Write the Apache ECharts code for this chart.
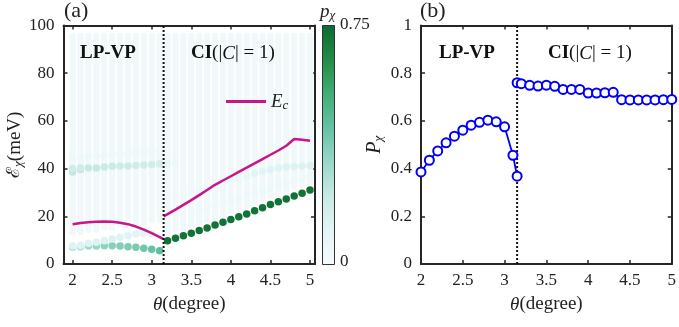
<!DOCTYPE html>
<html><head><meta charset="utf-8">
<script src="https://cdn.jsdelivr.net/npm/echarts@6/dist/echarts.min.js"></script>
<style>html,body{margin:0;padding:0;background:#fff}#c{width:679px;height:327px}</style>
</head><body><div id="c"></div>
<script>
// ---------- data ----------
const thetaTicks = [2, 2.5, 3, 3.5, 4, 4.5, 5];
const energyTicks = [0, 20, 40, 60, 80, 100];
const pxTicks = [0, 0.2, 0.4, 0.6, 0.8, 1];
const dividerTheta = 3.15;

// background faint columns: theta, lower edge, upper edge (meV)
const colTheta = [2,2.1,2.2,2.3,2.4,2.5,2.6,2.7,2.8,2.9,3,3.1,3.2,3.3,3.4,3.5,3.6,3.7,3.8,3.9,4,4.1,4.2,4.3,4.4,4.5,4.6,4.7,4.8,4.9,5];
const colLow  = [12,12,13,13,14,14,15,15,16,16,17,17,12,13,14,15,16,17,18,19,21,22,23,24,26,27,28,29,31,32,33];
const colHigh = [97,97,97,97,97,97,97,97,97,97,97,97,97,97,97,97,97,97,97,97,97,97,97,97,97,97,97,97,97,97,97];

// exciton branches (theta, energy meV, weight p)
const brLowTheta = [2,2.1,2.2,2.3,2.4,2.5,2.6,2.7,2.8,2.9,3,3.1];
const brLowE     = [7.0,7.2,7.5,7.5,7.7,7.7,7.5,7.2,7.0,6.6,6.2,5.6];
const brLowP     = [0.27,0.29,0.31,0.33,0.35,0.36,0.37,0.38,0.39,0.41,0.43,0.45];

const brLightTheta = [2,2.1,2.2,2.3,2.4,2.5,2.6,2.7,2.8,2.9,3];
const brLightE     = [7.6,7.9,8.7,9.1,9.8,10.5,11.2,11.8,12.6,12.8,12.6];
const brLightP     = [0.12,0.12,0.12,0.13,0.13,0.13,0.12,0.12,0.11,0.11,0.10];

const brUpTheta = [2,2,2.1,2.1,2.2,2.3,2.4,2.5,2.6,2.7,2.8,2.9,3,3.1,3.2,3.3];
const brUpE     = [38.6,40.0,39.6,40.4,40.2,40.3,40.7,41.0,41.1,41.1,41.3,41.5,41.7,42.0,42.0,42.2];
const brUpP     = [0.23,0.19,0.23,0.19,0.22,0.22,0.21,0.21,0.20,0.20,0.19,0.19,0.18,0.17,0.09,0.06];

const brFaintTheta = [2,2.1,2.2,2.3,2.4,2.5,2.6,2.7,2.8,2.9,3,3.1];
const brFaintE     = [44.5,44.8,45.0,45.3,45.6,45.9,46.2,46.5,46.8,47.1,47.4,47.7];
const brFaintP     = [0.04,0.04,0.04,0.04,0.04,0.04,0.04,0.04,0.04,0.04,0.04,0.04];

const brRightTheta = [3.3,3.4,3.5,3.6,3.7,3.8,3.9,4,4.1,4.2,4.3,4.4,4.5,4.6,4.7,4.8,4.9,5];
const brRightE     = [29.0,29.8,30.6,31.4,32.2,33.0,33.8,34.6,35.6,36.6,38.0,38.9,39.6,40.2,40.7,40.9,41.1,41.3];
const brRightP     = [0.03,0.03,0.03,0.04,0.04,0.04,0.05,0.05,0.06,0.07,0.10,0.11,0.12,0.12,0.13,0.13,0.13,0.14];

const brRight2Theta = [3.6,3.7,3.8,3.9,4,4.1,4.2,4.3,4.4,4.5,4.6,4.7,4.8,4.9,5];
const brRight2E     = [22.5,23.5,24.5,25.5,26.6,27.6,28.6,29.7,30.7,31.8,32.8,33.9,34.9,36.0,37.0];
const brRight2P     = [0.03,0.03,0.03,0.03,0.04,0.04,0.04,0.04,0.05,0.05,0.05,0.05,0.05,0.05,0.05];

const brDarkTheta = [3.2,3.3,3.4,3.5,3.6,3.7,3.8,3.9,4,4.1,4.2,4.3,4.4,4.5,4.6,4.7,4.8,4.9,5];
const brDarkE     = [9.8,10.8,11.8,12.9,14.0,15.1,16.3,17.5,18.7,19.8,21.0,22.3,23.6,24.9,26.1,27.3,28.5,29.7,31.0];
const brDarkP     = [0.72,0.72,0.72,0.72,0.72,0.72,0.72,0.72,0.72,0.72,0.72,0.72,0.72,0.72,0.72,0.72,0.72,0.72,0.72];

// Ec line
const ecLeftTheta  = [2,2.1,2.2,2.3,2.4,2.5,2.6,2.7,2.8,2.9,3,3.1,3.15];
const ecLeftE      = [16.7,17.2,17.5,17.7,17.8,17.7,17.3,16.7,15.7,14.4,12.9,11.3,10.4];
const ecRightTheta = [3.15,3.2,3.3,3.4,3.5,3.6,3.7,3.8,3.9,4,4.1,4.2,4.3,4.4,4.5,4.6,4.7,4.8,4.9,5];
const ecRightE     = [20.0,20.9,22.8,24.8,26.8,28.9,31.0,33.2,35.0,36.8,38.6,40.4,42.2,44.0,45.8,47.6,49.6,52.4,52.1,51.7];

// panel (b)
const pLeftTheta  = [2,2.1,2.2,2.3,2.4,2.5,2.6,2.7,2.8,2.9,3,3.1,3.15];
const pLeftVal    = [0.386,0.435,0.474,0.508,0.536,0.561,0.582,0.594,0.603,0.596,0.575,0.456,0.368];
const pRightTheta = [3.15,3.2,3.3,3.4,3.5,3.6,3.7,3.8,3.9,4,4.1,4.2,4.3,4.4,4.5,4.6,4.7,4.8,4.9,5];
const pRightVal   = [0.760,0.756,0.749,0.746,0.750,0.745,0.732,0.732,0.732,0.717,0.717,0.718,0.720,0.689,0.688,0.688,0.688,0.688,0.689,0.690];

const pMax = 0.75;
const cbLabels = ['0.75', '0'];

// ---------- helpers ----------
const zip3 = (a,b,c) => a.map((v,i)=>[v,b[i],c[i]]);
const zip2 = (a,b) => a.map((v,i)=>[v,b[i]]);
const FONT = 'Liberation Serif';
const AX = '#262626';
const BUGN = ['#f5fbfc','#e3f4f6','#c9eae4','#99d8c9','#66c2a4','#41ae76','#238b45','#0b6a30'];

const chart = echarts.init(document.getElementById('c'), null, {renderer:'canvas'});

function xAx(grid, pos, show, custom, min, max){
  const a = {type:'value', gridIndex:grid, position:pos, min:min, max:max,
    axisLine:{show:true, onZero:false, lineStyle:{color:AX, width:2}},
    axisTick:{show:true, inside:true, length:4, lineStyle:{color:AX, width:1.5}},
    splitLine:{show:false},
    axisLabel:{show:show, color:'#222', fontFamily:FONT, fontSize:17, margin:8,
      formatter:v=>String(v)}
  };
  if (custom){ a.axisTick.customValues = thetaTicks; a.axisLabel.customValues = thetaTicks; }
  else { a.interval = 0.5; }
  if (show){
    a.name = '{i|θ}(degree)'; a.nameLocation='middle'; a.nameGap = 31;
    a.nameTextStyle = {fontFamily:FONT, fontSize:19, color:'#222', rich:{i:{fontFamily:FONT, fontStyle:'italic', fontSize:19, color:'#222'}}};
  }
  return a;
}
function yAx(grid, pos, show, max, interval){
  return {type:'value', gridIndex:grid, position:pos, min:0, max:max, interval:interval,
    axisLine:{show:true, onZero:false, lineStyle:{color:AX, width:2}},
    axisTick:{show:true, inside:true, length:4, lineStyle:{color:AX, width:1.5}},
    splitLine:{show:false},
    axisLabel:{show:show, color:'#222', fontFamily:FONT, fontSize:17, margin:9}
  };
}

const yA0 = yAx(0,'left',true,100,20);
yA0.name = '{e|ℰ}{s|χ}(meV)'; yA0.nameLocation='middle'; yA0.nameGap=38; yA0.nameRotate=90;
yA0.nameTextStyle = {fontFamily:FONT, fontSize:19, color:'#222', rich:{
  e:{fontFamily:'DejaVu Serif', fontSize:18, color:'#222'},
  s:{fontFamily:FONT, fontStyle:'italic', fontSize:13, color:'#222', padding:[8,0,0,0]}}};
const yB0 = yAx(1,'left',true,1,0.2);
yB0.axisLabel.formatter = v => String(+v.toFixed(1));
yB0.name = '{p|P}{s|χ}'; yB0.nameLocation='middle'; yB0.nameGap=36; yB0.nameRotate=90;
yB0.nameTextStyle = {fontFamily:FONT, fontSize:19, color:'#222', rich:{
  p:{fontFamily:FONT, fontStyle:'italic', fontSize:20, color:'#222'},
  s:{fontFamily:FONT, fontStyle:'italic', fontSize:13, color:'#222', padding:[8,0,0,0]}}};

function scatter(name, t, e, p, z){
  return {type:'scatter', name:name, xAxisIndex:0, yAxisIndex:0, data:zip3(t,e,p),
    symbolSize:7.5, z:z||3, itemStyle:{opacity:1}, silent:true};
}

const gradStops = BUGN.map((c,i)=>({offset:1 - i/(BUGN.length-1), color:c}));

const option = {
  animation:false,
  backgroundColor:'#fff',
  grid:[
    {left:63.5, top:25.5, width:251.5, height:238.5},
    {left:421, top:25.5, width:254, height:238.5}
  ],
  xAxis:[
    xAx(0,'bottom',true,true,1.885,5.063),
    xAx(0,'top',false,true,1.885,5.063),
    xAx(1,'bottom',true,false,2,5),
    xAx(1,'top',false,false,2,5)
  ],
  yAxis:[
    yA0, yAx(0,'right',false,100,20),
    yB0, yAx(1,'right',false,1,0.2)
  ],
  visualMap:{
    show:false, type:'continuous', min:0, max:pMax, dimension:2,
    seriesIndex:[1,2,3,4,5,6,7],
    inRange:{color:BUGN}
  },
  legend:{
    data:['Ec'], left:221, top:87, itemWidth:40, itemHeight:3, icon:'rect', itemGap:4,
    formatter:()=>'{i|E}{s|c}',
    textStyle:{fontFamily:FONT, fontSize:19, color:'#222', rich:{
      i:{fontFamily:FONT, fontStyle:'italic', fontSize:19, color:'#222'},
      s:{fontFamily:FONT, fontStyle:'italic', fontSize:13, color:'#222', padding:[8,0,0,0]}}}
  },
  series:[
    {type:'custom', xAxisIndex:0, yAxisIndex:0, silent:true, z:1,
     data: colTheta.map((t,i)=>[t,colLow[i],colHigh[i]]),
     renderItem:(params, api)=>{
       const a = api.coord([api.value(0), api.value(1)]);
       const b = api.coord([api.value(0), api.value(2)]);
       return {type:'rect', shape:{x:a[0]-3.2, y:b[1], width:6.4, height:a[1]-b[1], r:3.2},
         style:{fill:'#f0f8fa'}};
     }},
    scatter('faint', brFaintTheta, brFaintE, brFaintP, 2),
    scatter('right2', brRight2Theta, brRight2E, brRight2P, 2),
    scatter('right', brRightTheta, brRightE, brRightP, 3),
    scatter('up', brUpTheta, brUpE, brUpP, 3),
    scatter('low', brLowTheta, brLowE, brLowP, 3),
    scatter('light', brLightTheta, brLightE, brLightP, 4),
    scatter('dark', brDarkTheta, brDarkE, brDarkP, 4),
    {type:'line', name:'Ec', xAxisIndex:0, yAxisIndex:0, data:zip2(ecLeftTheta, ecLeftE), showSymbol:false, symbol:'none',
     smooth:false, lineStyle:{color:'#c8158a', width:2.5}, itemStyle:{color:'#c8158a'}, z:5},
    {type:'line', name:'Ec', xAxisIndex:0, yAxisIndex:0, data:zip2(ecRightTheta, ecRightE), showSymbol:false, symbol:'none',
     lineStyle:{color:'#c8158a', width:2.5}, itemStyle:{color:'#c8158a'}, z:5},
    {type:'line', xAxisIndex:0, yAxisIndex:0, data:[[dividerTheta,0],[dividerTheta,100]], symbol:'none',
     lineStyle:{color:'#111', width:2, type:[2,2]}, z:6},
    {type:'line', xAxisIndex:2, yAxisIndex:2, data:[[dividerTheta,0],[dividerTheta,1]], symbol:'none',
     lineStyle:{color:'#111', width:2, type:[2,2]}, z:6},
    {type:'line', xAxisIndex:2, yAxisIndex:2, data:zip2(pLeftTheta,pLeftVal), symbol:'emptyCircle', symbolSize:9,
     showSymbol:true, lineStyle:{color:'#0000f5', width:1.8}, itemStyle:{color:'#0000f5', borderWidth:2}, z:7},
    {type:'line', xAxisIndex:2, yAxisIndex:2, data:zip2(pRightTheta,pRightVal), symbol:'emptyCircle', symbolSize:9,
     showSymbol:true, lineStyle:{color:'#0000f5', width:1.8}, itemStyle:{color:'#0000f5', borderWidth:2}, z:7}
  ],
  graphic:{elements:[
    {type:'rect', left:322, top:25, z:100, shape:{width:12, height:239},
     style:{fill:new echarts.graphic.LinearGradient(0,0,0,1,gradStops), stroke:'#333', lineWidth:1}},
    {type:'text', left:340, top:16, z:100, style:{text:cbLabels[0], font:'17px '+FONT, fill:'#222'}},
    {type:'text', left:340, top:253, z:100, style:{text:cbLabels[1], font:'17px '+FONT, fill:'#222'}},
    {type:'text', left:320, top:2, z:100, style:{text:'{p|p}{s|χ}', rich:{p:{font:'italic 19px '+FONT, fill:'#222'}, s:{font:'italic 13px '+FONT, fill:'#222', padding:[8,0,0,0]}}}},
    {type:'text', left:64, top:0, z:100, style:{text:'(a)', font:'22px '+FONT, fill:'#222'}},
    {type:'text', left:420, top:0, z:100, style:{text:'(b)', font:'22px '+FONT, fill:'#222'}},
    {type:'text', left:80, top:44, z:100, style:{text:'LP-VP', font:'bold 19px '+FONT, fill:'#111'}},
    {type:'text', left:191, top:44, z:100, style:{text:'{b|CI}{r|(|}{i|C}{r|| = 1)}', rich:{
       b:{font:'bold 19px '+FONT, fill:'#111'}, r:{font:'19px '+FONT, fill:'#111'}, i:{font:'italic 19px '+FONT, fill:'#111'}}}},
    {type:'text', left:439, top:44, z:100, style:{text:'LP-VP', font:'bold 19px '+FONT, fill:'#111'}},
    {type:'text', left:548, top:44, z:100, style:{text:'{b|CI}{r|(|}{i|C}{r|| = 1)}', rich:{
       b:{font:'bold 19px '+FONT, fill:'#111'}, r:{font:'19px '+FONT, fill:'#111'}, i:{font:'italic 19px '+FONT, fill:'#111'}}}}
  ]}
};
chart.setOption(option);
</script></body></html>
